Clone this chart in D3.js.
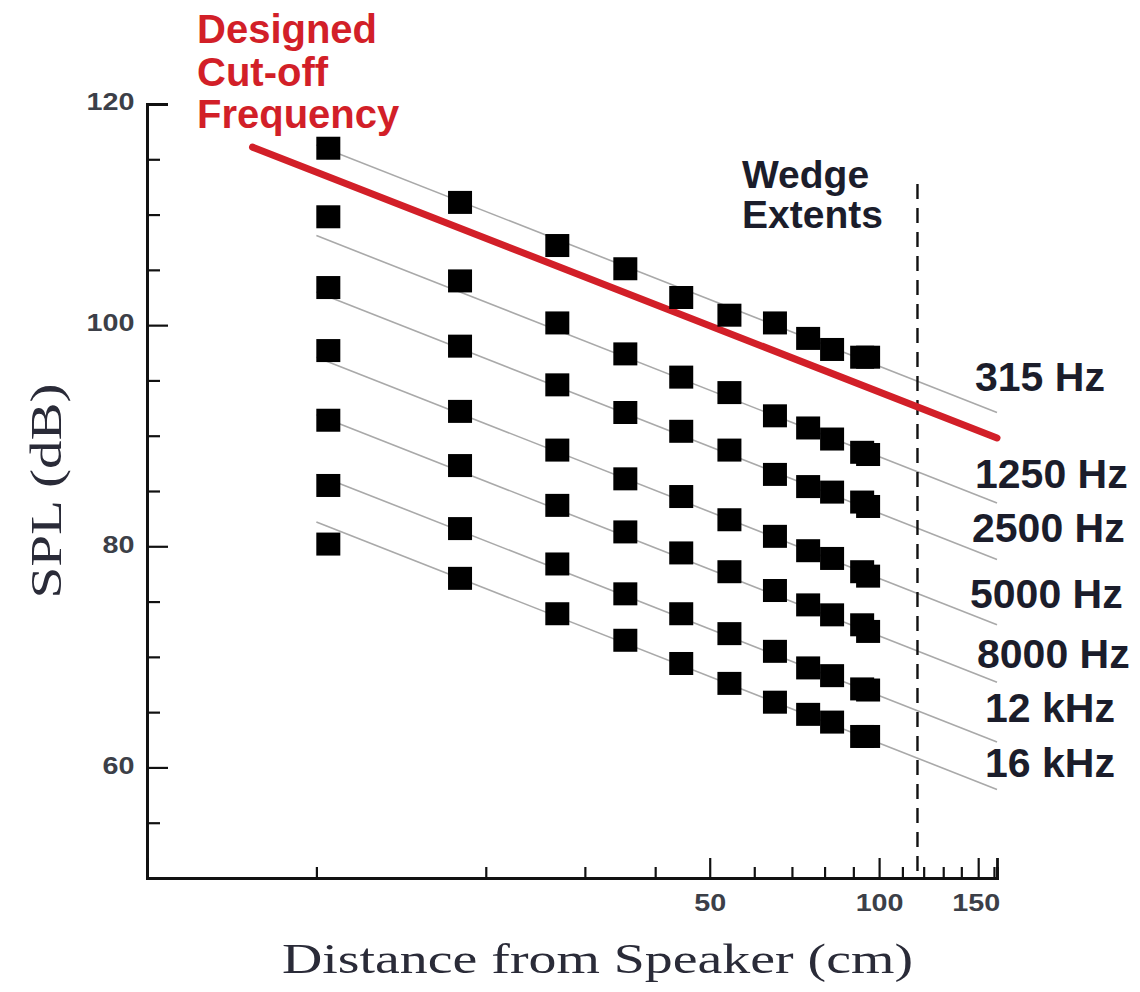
<!DOCTYPE html>
<html>
<head>
<meta charset="utf-8">
<script src="https://cdn.jsdelivr.net/npm/d3@7"></script>
<style>
  html, body { margin: 0; background: #ffffff; }
  svg { display: block; }
</style>
</head>
<body>
<svg id="chart" width="1140" height="992"></svg>
<script>
// Sound pressure level measured at increasing distances from the speaker,
// one series per third-octave band.
const distances = [10.5, 18.0, 26.8, 35.4, 44.5, 54.2, 65.3, 74.8, 82.5, 93.3, 95.6];

const bands = ["315 Hz", "1250 Hz", "2500 Hz", "5000 Hz", "8000 Hz", "12 kHz", "16 kHz"];

const spl315  = [116.0, 111.1, 107.2, 105.1, 102.5, 100.9, 100.2, 98.8, 97.8, 97.1, 97.1];
const spl1250 = [109.8, 104.0, 100.2, 97.4, 95.3, 93.9, 91.8, 90.7, 89.7, 88.5, 88.3];
const spl2500 = [103.4, 98.1, 94.6, 92.1, 90.4, 88.7, 86.5, 85.4, 84.9, 84.0, 83.6];
const spl5000 = [97.7, 92.2, 88.7, 86.1, 84.5, 82.4, 80.9, 79.6, 78.9, 77.7, 77.3];
const spl8000 = [91.4, 87.3, 83.7, 81.3, 79.4, 77.7, 76.0, 74.7, 73.8, 72.9, 72.3];
const spl12k  = [85.5, 81.6, 78.4, 75.7, 73.9, 72.1, 70.5, 69.0, 68.3, 67.1, 67.0];
const spl16k  = [80.2, 77.1, 73.9, 71.5, 69.4, 67.6, 65.9, 64.8, 64.1, 62.8, 62.8];

const bandSPL = [spl315, spl1250, spl2500, spl5000, spl8000, spl12k, spl16k];

// Level of each band's spherical-spreading (-20 dB/decade) line at 100 cm.
const spreadingLevelAt100 = [96.3, 88.1, 83.0, 77.1, 71.9, 66.5, 62.2];
const spreadingSpan = [10, 162];

// Designed cut-off line and wedge extent.
const cutoffDistance = [7.7, 162];
const cutoffSPL = [116.1, 89.8];
const wedgeExtent = 117;

// Axis ticks.
const xTickValues = [10, 20, 30, 40, 50, 60, 70, 80, 90, 100, 110, 120, 130, 140, 150, 160];
const xTickLabels = [50, 100, 150];
const yMinorTicks = [55, 65, 70, 75, 85, 90, 95, 105, 110, 115];
const yTickLabels = [60, 80, 100, 120];

// Label placement for the band names (layout only).
const bandLabelX = [975, 975, 972, 970, 977, 985, 985];
const bandLabelDy = [-21, -15, -17, -17, -14, -20, -12];

const svg = d3.select("#chart");

const x = d3.scaleLog().domain([5, 162]).range([147, 997]);
const y = d3.scaleLinear().domain([50, 120]).range([878, 104]);

const ink = "#1b1d2b";
const tickInk = "#3c3f48";
const serif = "'Liberation Serif', 'DejaVu Serif', serif";
const sans = "'Liberation Sans', Arial, Helvetica, sans-serif";

// ---- spherical spreading reference lines ----
const lineGen = d3.line().x(d => x(d[0])).y(d => y(d[1]));
const spreadLines = bandSPL.map((_, i) =>
  spreadingSpan.map(d => [d, spreadingLevelAt100[i] - 20 * Math.log10(d / 100)]));

svg.append("g")
  .selectAll("path")
  .data(spreadLines)
  .join("path")
  .attr("d", lineGen)
  .attr("fill", "none")
  .attr("stroke", "#a9a9a9")
  .attr("stroke-width", 1.6);

// ---- wedge extent ----
svg.append("line")
  .attr("x1", x(wedgeExtent)).attr("x2", x(wedgeExtent))
  .attr("y1", 184).attr("y2", y(50))
  .attr("stroke", "#111")
  .attr("stroke-width", 2.4)
  .attr("stroke-dasharray", "15,9");

// ---- designed cut-off frequency line ----
svg.append("path")
  .attr("d", lineGen(cutoffDistance.map((d, i) => [d, cutoffSPL[i]])))
  .attr("fill", "none")
  .attr("stroke", "#d21f28")
  .attr("stroke-width", 7)
  .attr("stroke-linecap", "round");

// ---- measured points ----
const sq = 24;
svg.append("g")
  .selectAll("g")
  .data(bandSPL)
  .join("g")
  .selectAll("rect")
  .data(vals => vals.map((v, j) => [distances[j], v]))
  .join("rect")
  .attr("x", d => x(d[0]) - sq / 2)
  .attr("y", d => y(d[1]) - (sq - 1) / 2)
  .attr("width", sq)
  .attr("height", sq - 1)
  .attr("fill", "#000");

// ---- axes (minor and labelled ticks in separate groups) ----
const gyMinor = svg.append("g").attr("transform", `translate(${x(5)},0)`)
  .call(d3.axisLeft(y).tickValues(yMinorTicks).tickSize(-13).tickFormat(""));
const gy = svg.append("g").attr("transform", `translate(${x(5)},0)`)
  .call(d3.axisLeft(y).tickValues(yTickLabels).tickSize(-21).tickPadding(10)
    .tickFormat(d3.format("d")));

const gxMinor = svg.append("g").attr("transform", `translate(0,${y(50)})`)
  .call(d3.axisBottom(x).tickValues(xTickValues.filter(v => !xTickLabels.includes(v)))
    .tickSize(-11).tickFormat(""));
const gx = svg.append("g").attr("transform", `translate(0,${y(50)})`)
  .call(d3.axisBottom(x).tickValues(xTickLabels).tickSize(-20).tickPadding(17)
    .tickFormat(d3.format("d")));

[gxMinor, gyMinor, gx, gy].forEach(g => {
  g.selectAll(".domain").attr("stroke", "#111").attr("stroke-width", 2.8);
  g.selectAll(".tick line").attr("stroke", "#111").attr("stroke-width", 2.2);
  g.selectAll(".tick text")
    .attr("fill", tickInk)
    .style("font-family", sans)
    .style("font-size", "23px")
    .style("font-weight", "bold");
});
// Slightly extended numerals on both axes.
gy.selectAll(".tick text").attr("transform", "scale(1.25,1)").attr("dy", "0.25em");
gx.selectAll(".tick text").attr("transform", "scale(1.25,1)");
gx.selectAll(".tick").filter(d => d === 150).select("text").attr("x", -2);

// ---- axis titles ----
svg.append("text")
  .attr("x", 282).attr("y", 973)
  .attr("textLength", 631).attr("lengthAdjust", "spacingAndGlyphs")
  .attr("fill", "#2a2b38")
  .style("font-family", serif)
  .style("font-size", "42px")
  .text("Distance from Speaker (cm)");

svg.append("text")
  .attr("transform", `translate(61,${(y(50) + y(120)) / 2}) rotate(-90)`)
  .attr("text-anchor", "middle")
  .attr("textLength", 215).attr("lengthAdjust", "spacingAndGlyphs")
  .attr("fill", "#2a2b38")
  .style("font-family", serif)
  .style("font-size", "44px")
  .text("SPL (dB)");

// ---- annotations ----
const cutoffNote = svg.append("text")
  .attr("fill", "#d21f28")
  .style("font-family", sans).style("font-size", "40px").style("font-weight", "bold");
["Designed", "Cut-off", "Frequency"].forEach((t, i) => {
  cutoffNote.append("tspan").attr("x", 197).attr("y", 43 + i * 42.5).text(t);
});

["Wedge", "Extents"].forEach((t, i) => {
  svg.append("text")
    .attr("x", 742).attr("y", 188 + i * 40)
    .attr("fill", ink)
    .style("font-family", sans).style("font-size", "39px").style("font-weight", "bold")
    .text(t);
});

svg.append("g")
  .selectAll("text")
  .data(bands)
  .join("text")
  .attr("x", (d, i) => bandLabelX[i])
  .attr("y", (d, i) => y(spreadLines[i][1][1]) + bandLabelDy[i])
  .attr("fill", ink)
  .style("font-family", sans).style("font-size", "41px").style("font-weight", "bold")
  .text(d => d);
</script>
</body>
</html>
